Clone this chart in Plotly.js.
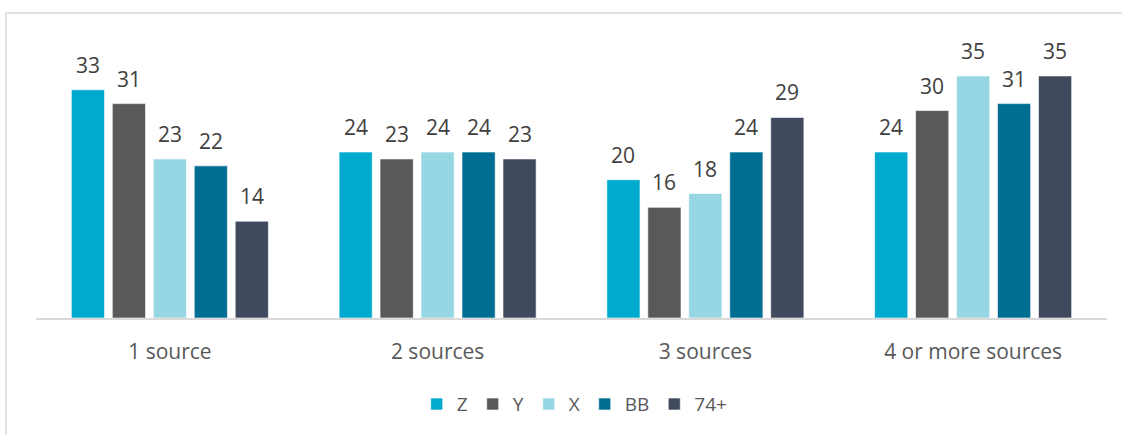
<!DOCTYPE html>
<html>
<head>
<meta charset="utf-8">
<script src="https://cdn.plot.ly/plotly-3.0.1.min.js"></script>
<style>html,body{margin:0;padding:0;background:#fff;}#chart{width:1122px;height:435px;}</style>
</head>
<body>
<div id="chart"></div>
<script>
const categories = ["1 source", "2 sources", "3 sources", "4 or more sources"];
const seriesNames = ["Z", "Y", "X", "BB", "74+"];
const Z = [33, 24, 20, 24];
const Y = [31, 23, 16, 30];
const X = [23, 24, 18, 35];
const BB = [22, 24, 24, 31];
const G74 = [14, 23, 29, 35];
const colors = ["#00A9CE", "#58595B", "#97D7E4", "#006E93", "#3F4A5E"];

const FONT = "Open Sans, Liberation Sans, sans-serif";
const values = [Z, Y, X, BB, G74];
const traces = values.map((v, i) => ({
  type: "bar",
  name: seriesNames[i],
  x: categories,
  y: v,
  marker: {color: colors[i], line: {color: "rgba(255,255,255,0.6)", width: 1}},
  hoverinfo: "none"
}));

const layout = {
  width: 1122, height: 435,
  margin: {l: 36, r: 15, t: 40, b: 117},
  paper_bgcolor: "#fff", plot_bgcolor: "#fff",
  barmode: "group",
  bargap: 0.235,
  bargroupgap: 0.19,
  showlegend: true,
  legend: {orientation: "h", x: 0.503, xanchor: "center", y: -0.31, yanchor: "middle",
    font: {family: FONT, size: 19, color: "#595959"},
    itemwidth: 30},
  xaxis: {tickfont: {family: FONT, size: 21, color: "#595959"},
    showline: true, linecolor: "#D9D9D9", linewidth: 2, ticks: "", ticklabelstandoff: 14, fixedrange: true},
  yaxis: {range: [0, 40.2], visible: false, showgrid: false, zeroline: false, fixedrange: true},
  shapes: [{type: "rect", xref: "paper", yref: "paper", x0: -0.028, x1: 1.2, y0: -0.6, y1: 1.097,
    line: {color: "#D9D9D9", width: 1.5}, fillcolor: "rgba(0,0,0,0)", layer: "below"}]
};

const gd = document.getElementById("chart");
Plotly.newPlot(gd, traces, layout, {displayModeBar: false, staticPlot: true}).then(() => {
  const anns = [];
  gd.calcdata.forEach((cd, i) => {
    cd.forEach((bar, j) => {
      const xc = (bar.p0 !== undefined && bar.p1 !== undefined) ? (bar.p0 + bar.p1) / 2 : bar.x;
      anns.push({x: xc, y: values[i][j], xref: "x", yref: "y", text: String(values[i][j]),
        showarrow: false, yanchor: "bottom", xanchor: "center", yshift: 9,
        font: {family: FONT, size: 21, color: "#404040"}});
    });
  });
  return Plotly.relayout(gd, {annotations: anns});
});
</script>
</body>
</html>
